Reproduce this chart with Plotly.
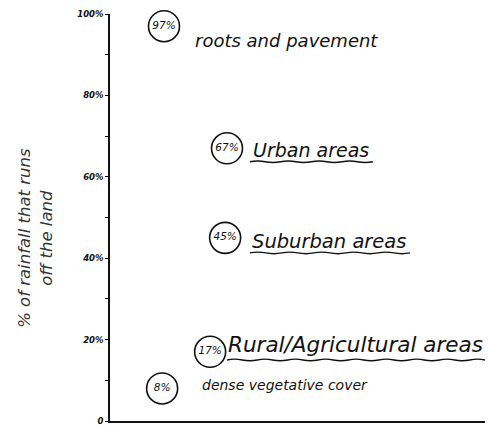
import plotly.graph_objects as go

# ---- data ----
runoff_pct = [97, 67, 45, 17, 8]
circle_labels = ["97%", "67%", "45%", "17%", "8%"]
land_cover = ["roots and pavement", "Urban areas", "Suburban areas",
              "Rural/Agricultural areas", "dense vegetative cover"]
underlined = [False, True, True, True, False]
tick_vals = [0, 20, 40, 60, 80, 100]
tick_text = ["0", "20%", "40%", "60%", "80%", "100%"]

# ---- layout / style (positions in x-axis units 0..100) ----
circle_x = [14.4, 31.2, 30.7, 26.7, 13.9]
label_x = [22.2, 37.6, 37.4, 31.0, 24.0]
label_yshift = [-14, -2, -4, 7, 3]
label_size = [18, 19, 19.5, 21.5, 14]
underline_x0 = [0, 37.3, 37.3, 31.2, 0]
underline_x1 = [0, 70.1, 80.0, 100.0, 0]
underline_y = [0, 63.7, 41.3, 15.0, 0]

ink = "#111111"
hand = "DejaVu Sans"

fig = go.Figure()
fig.add_trace(go.Scatter(
    x=circle_x, y=runoff_pct, mode="markers+text",
    text=circle_labels, textposition="middle center",
    textfont=dict(family=hand, size=10.5, color=ink, style="italic"),
    marker=dict(symbol="circle-open", size=31, color=ink,
                line=dict(width=1.6, color=ink)),
    hoverinfo="skip", showlegend=False, cliponaxis=False,
))

annotations = []
shapes = []
for i, name in enumerate(land_cover):
    annotations.append(dict(
        x=label_x[i], y=runoff_pct[i], xref="x", yref="y",
        text=name, showarrow=False, xanchor="left",
        yanchor="middle", yshift=label_yshift[i],
        font=dict(family=hand, size=label_size[i], color=ink,
                  style="italic"),
    ))
    if underlined[i]:
        x0, x1, yv = underline_x0[i], underline_x1[i], underline_y[i]
        n = max(2, int((x1 - x0) / 4))
        step = (x1 - x0) / n
        path = f"M {x0},{yv}"
        for k in range(n):
            xa = x0 + step * (k + 0.5)
            xb = x0 + step * (k + 1)
            amp = 0.4 if k % 2 == 0 else -0.4
            path += f" Q {xa},{yv + amp} {xb},{yv}"
        shapes.append(dict(type="path", path=path, xref="x", yref="y",
                           line=dict(color=ink, width=1.4)))

annotations.append(dict(
    x=-0.2, y=0.45, xref="paper", yref="paper",
    xanchor="center", yanchor="middle",
    text="% of rainfall that runs<br>off the land",
    showarrow=False, textangle=-90,
    font=dict(family=hand, size=16.5, color="#333333", style="italic"),
))

fig.update_layout(
    width=489, height=429,
    margin=dict(l=110, r=4, t=14, b=8),
    paper_bgcolor="white", plot_bgcolor="white",
    annotations=annotations, shapes=shapes,
    xaxis=dict(range=[0, 100], showgrid=False, zeroline=False,
               showticklabels=False, ticks="", showline=True,
               linecolor=ink, linewidth=1.6),
    yaxis=dict(range=[0, 100], showgrid=False, zeroline=False,
               tickvals=tick_vals, ticktext=tick_text,
               ticks="outside", ticklen=3, tickwidth=1.3, tickcolor=ink,
               minor=dict(dtick=10, ticks="outside", ticklen=3,
                          tickwidth=1.2, tickcolor=ink),
               tickfont=dict(family=hand, size=8.5, color=ink,
                             style="italic", weight="bold"),
               showline=True, linecolor=ink, linewidth=1.6),
)

fig.write_html("out.html",
               config={"displayModeBar": False},
               post_script="document.body.style.margin='0';")
